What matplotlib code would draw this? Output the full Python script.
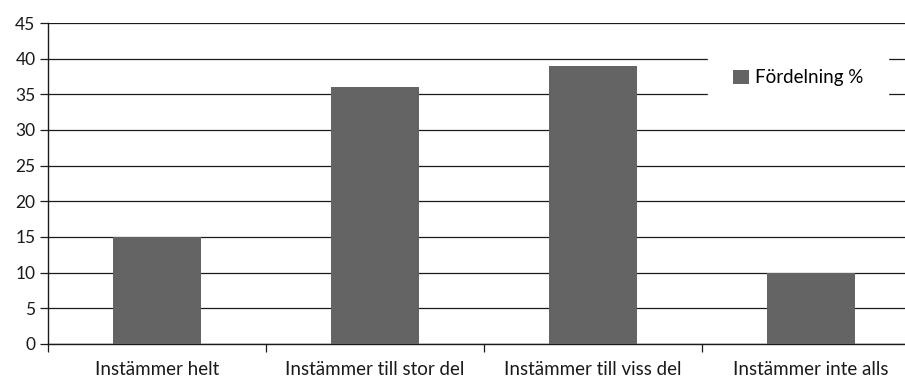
import matplotlib
matplotlib.use("Agg")
import matplotlib.pyplot as plt
from matplotlib.patches import Patch
import numpy as np

categories = ["Instämmer helt", "Instämmer till stor del", "Instämmer till viss del", "Instämmer inte alls"]
values = [15, 36, 39, 10]
series_name = "Fördelning %"
yticks = [0, 5, 10, 15, 20, 25, 30, 35, 40, 45]

plt.rcParams['font.family'] = ['Lato', 'DejaVu Sans']

W, H = 905, 378
fig = plt.figure(figsize=(W / 100, H / 100), dpi=100)
left, right, top, bottom = 48, 920, 23, 344
ax = fig.add_axes([left / W, 1 - bottom / H, (right - left) / W, (bottom - top) / H])

x = np.arange(len(categories))
bar_color = "#646464"
ax.bar(x, values, width=0.4, color=bar_color, zorder=3)

ax.set_xlim(-0.5, len(categories) - 0.5)
ax.set_ylim(0, 45)
ax.set_yticks(yticks)
ax.set_yticklabels([str(v) for v in yticks], fontsize=12.5, color="#1a1a1a")
ax.yaxis.grid(True, color="#1a1a1a", linewidth=0.9, zorder=0)
ax.set_axisbelow(True)

ax.set_xticks(x)
ax.set_xticklabels(categories, fontsize=13.5, color="#1a1a1a")
ax.set_xticks(np.arange(len(categories) + 1) - 0.5, minor=True)
ax.tick_params(axis="x", which="major", length=0, pad=12)
ax.tick_params(axis="x", which="minor", length=6, width=0.9, color="#1a1a1a")
ax.tick_params(axis="y", length=6, width=0.9, color="#1a1a1a", pad=3)

for s in ["top", "right"]:
    ax.spines[s].set_visible(False)
for s in ["left", "bottom"]:
    ax.spines[s].set_color("#1a1a1a")
    ax.spines[s].set_linewidth(1.0)

handle = Patch(facecolor=bar_color, edgecolor="none")
leg = fig.legend([handle], [series_name], loc="center",
                 bbox_to_anchor=(798 / W, 1 - 78 / H),
                 frameon=True, fancybox=False, fontsize=13.5,
                 handlelength=0.85, handleheight=0.85, handletextpad=0.35,
                 borderpad=1.3, borderaxespad=0)
leg.get_frame().set_facecolor("white")
leg.get_frame().set_edgecolor("white")
leg.get_frame().set_alpha(1)

fig.savefig("out.png", dpi=100)
